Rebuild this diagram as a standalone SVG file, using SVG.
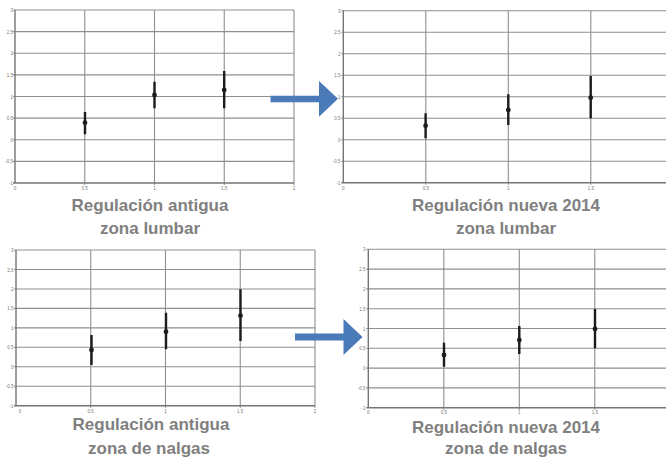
<svg xmlns="http://www.w3.org/2000/svg" width="666" height="459" viewBox="0 0 666 459">
<style>
.bg{fill:#ffffff}
.grid{stroke:#8f8f8f;stroke-width:1.1;fill:none}
.axis{stroke:#757575;stroke-width:1.4;fill:none}
.eb{stroke:#1c1c1c;stroke-width:2.4;fill:none}
.pt{fill:#1c1c1c}
.tk{font-family:"Liberation Sans",Arial,sans-serif;font-size:4.5px;fill:#777}
.cap{font-family:"Liberation Sans",Arial,sans-serif;font-size:17px;font-weight:bold;fill:#808080;text-anchor:middle}
.arrow{fill:#4A7AB8}
</style>
<rect class="bg" x="0" y="0" width="666" height="459"/>

<g id="chart-top-left">
  <g class="grid">
    <path d="M13 10H294M13 31.6H294M13 53.25H294M13 74.9H294M13 96.5H294M13 118.1H294M13 139.75H294M13 161.4H294"/>
    <path d="M84.75 10V185M154.5 10V185M224.25 10V185M294 10V185"/>
  </g>
  <path class="axis" d="M15 10V183M13 183H294"/>
  <g class="tk" text-anchor="end">
    <text x="13" y="12">3</text><text x="13" y="33.6">2.5</text><text x="13" y="55.2">2</text><text x="13" y="76.9">1.5</text><text x="13" y="98.5">1</text><text x="13" y="120.1">0.5</text><text x="13" y="141.7">0</text><text x="13" y="163.4">-0.5</text><text x="13" y="185">-1</text>
  </g>
  <g class="tk" text-anchor="middle">
    <text x="15" y="190">0</text><text x="84.75" y="190">0.5</text><text x="154.5" y="190">1</text><text x="224.25" y="190">1.5</text><text x="294" y="190">2</text>
  </g>
  <path class="eb" d="M85 112V134.3M154.5 81.7V108.3M224.2 71V108.3"/>
  <circle class="pt" cx="85" cy="122.7" r="2.4"/>
  <circle class="pt" cx="154.5" cy="95" r="2.4"/>
  <circle class="pt" cx="224.2" cy="90" r="2.4"/>
  <text class="cap" x="150" y="211">Regulación antigua</text>
  <text class="cap" x="150" y="234">zona lumbar</text>
</g>

<g id="chart-top-right">
  <g class="grid">
    <path d="M341.3 10.7H666M341.3 32.2H666M341.3 53.7H666M341.3 75.2H666M341.3 96.7H666M341.3 118.2H666M341.3 139.7H666M341.3 161.2H666"/>
    <path d="M425.8 10.7V184.7M508.3 10.7V184.7M590.8 10.7V184.7"/>
  </g>
  <path class="axis" d="M343.3 10.7V182.7M341.3 182.7H666"/>
  <g class="tk" text-anchor="end">
    <text x="340.5" y="12.7">3</text><text x="340.5" y="34.2">2.5</text><text x="340.5" y="55.7">2</text><text x="340.5" y="77.2">1.5</text><text x="340.5" y="98.7">1</text><text x="340.5" y="120.2">0.5</text><text x="340.5" y="141.7">0</text><text x="340.5" y="163.2">-0.5</text><text x="340.5" y="184.7">-1</text>
  </g>
  <g class="tk" text-anchor="middle">
    <text x="343.3" y="189.5">0</text><text x="425.8" y="189.5">0.5</text><text x="508.3" y="189.5">1</text><text x="590.8" y="189.5">1.5</text>
  </g>
  <path class="eb" d="M425.6 113.3V138.3M508.3 94.3V125M590.7 76V118.3"/>
  <circle class="pt" cx="425.6" cy="125.7" r="2.4"/>
  <circle class="pt" cx="508.3" cy="110" r="2.4"/>
  <circle class="pt" cx="590.7" cy="97.7" r="2.4"/>
  <text class="cap" x="506" y="211">Regulación nueva 2014</text>
  <text class="cap" x="506" y="234">zona lumbar</text>
</g>

<g id="chart-bottom-left">
  <g class="grid">
    <path d="M14 250H315M14 269.46H315M14 288.93H315M14 308.39H315M14 327.85H315M14 347.3H315M14 366.78H315M14 386.24H315"/>
    <path d="M90.75 250V407.7M165.5 250V407.7M240.25 250V407.7M315 250V407.7"/>
  </g>
  <path class="axis" d="M16 250V405.7M14 405.7H315"/>
  <g class="tk" text-anchor="end">
    <text x="13.5" y="252">3</text><text x="13.5" y="271.5">2.5</text><text x="13.5" y="290.9">2</text><text x="13.5" y="310.4">1.5</text><text x="13.5" y="329.9">1</text><text x="13.5" y="349.3">0.5</text><text x="13.5" y="368.8">0</text><text x="13.5" y="388.2">-0.5</text><text x="13.5" y="407.7">-1</text>
  </g>
  <g class="tk" text-anchor="middle">
    <text x="20" y="412.5">0</text><text x="90.75" y="412.5">0.5</text><text x="165.5" y="412.5">1</text><text x="240.25" y="412.5">1.5</text><text x="315" y="412.5">2</text>
  </g>
  <path class="eb" d="M91.5 335V365M166 312.7V349.3M240.5 289.3V341"/>
  <circle class="pt" cx="91.5" cy="350" r="2.4"/>
  <circle class="pt" cx="166" cy="331.7" r="2.4"/>
  <circle class="pt" cx="240.5" cy="315.7" r="2.4"/>
  <text class="cap" x="151" y="430">Regulación antigua</text>
  <text class="cap" x="149" y="454">zona de nalgas</text>
</g>

<g id="chart-bottom-right">
  <g class="grid">
    <path d="M366.3 249.3H666M366.3 269.1H666M366.3 288.9H666M366.3 308.7H666M366.3 328.5H666M366.3 348.3H666M366.3 368.1H666M366.3 387.9H666"/>
    <path d="M443.8 249.3V409.7M519.3 249.3V409.7M594.8 249.3V409.7"/>
  </g>
  <path class="axis" d="M368.3 249.3V407.7M366.3 407.7H666"/>
  <g class="tk" text-anchor="end">
    <text x="365.5" y="251.3">3</text><text x="365.5" y="271.1">2.5</text><text x="365.5" y="290.9">2</text><text x="365.5" y="310.7">1.5</text><text x="365.5" y="330.5">1</text><text x="365.5" y="350.3">0.5</text><text x="365.5" y="370.1">0</text><text x="365.5" y="389.9">-0.5</text><text x="365.5" y="409.7">-1</text>
  </g>
  <g class="tk" text-anchor="middle">
    <text x="368.3" y="413.5">0</text><text x="443.8" y="413.5">0.5</text><text x="519.3" y="413.5">1</text><text x="594.8" y="413.5">1.5</text>
  </g>
  <path class="eb" d="M444 342.7V366.7M519.3 326V354M595 309V348.3"/>
  <circle class="pt" cx="444" cy="355" r="2.4"/>
  <circle class="pt" cx="519.3" cy="340" r="2.4"/>
  <circle class="pt" cx="595" cy="329" r="2.4"/>
  <text class="cap" x="506" y="433">Regulación nueva 2014</text>
  <text class="cap" x="506" y="454">zona de nalgas</text>
</g>

<g id="connectors">
  <polygon class="arrow" points="270.5,95.8 319,95.8 319,81 338,98.8 319,116.8 319,102.3 270.5,102.3"/>
  <polygon class="arrow" points="295,333.6 343.5,333.6 343.5,319 362.5,337 343.5,355 343.5,340.6 295,340.6"/>
</g>
</svg>
